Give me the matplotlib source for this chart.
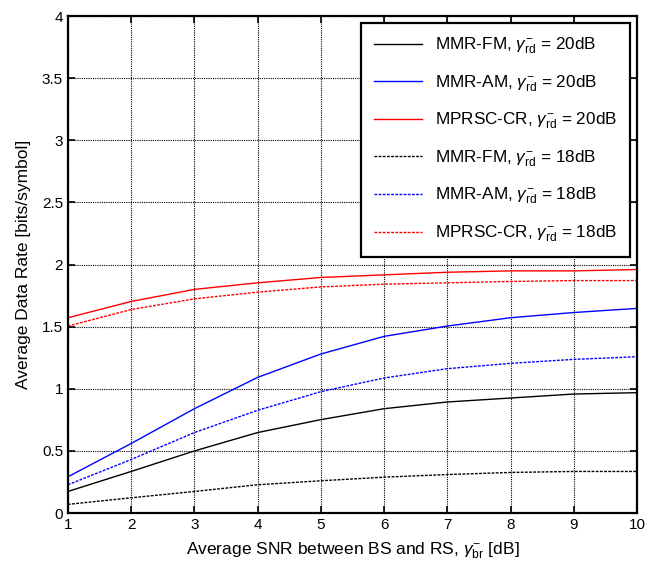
import numpy as np
import matplotlib.pyplot as plt

plt.rcParams['font.family'] = ['Liberation Sans', 'DejaVu Sans']
plt.rcParams['mathtext.fontset'] = 'custom'
plt.rcParams['mathtext.rm'] = 'Liberation Sans'
plt.rcParams['mathtext.it'] = 'Liberation Sans:italic'

# SNR between BS and RS (dB)
snr = [1, 2, 3, 4, 5, 6, 7, 8, 9, 10]

# gamma_rd = 20dB
fm_20 = [0.174, 0.335, 0.50, 0.648, 0.752, 0.84, 0.894, 0.926, 0.958, 0.969]
am_20 = [0.292, 0.56, 0.84, 1.092, 1.28, 1.422, 1.505, 1.572, 1.614, 1.647]
cr_20 = [1.572, 1.703, 1.80, 1.853, 1.896, 1.917, 1.938, 1.949, 1.949, 1.96]

# gamma_rd = 18dB
fm_18 = [0.07, 0.123, 0.174, 0.228, 0.26, 0.289, 0.31, 0.327, 0.335, 0.335]
am_18 = [0.228, 0.431, 0.648, 0.827, 0.977, 1.087, 1.162, 1.205, 1.237, 1.258]
cr_18 = [1.505, 1.638, 1.724, 1.778, 1.82, 1.842, 1.853, 1.864, 1.871, 1.871]

g = r'$\gamma^{\mathrm{-}}_{\mathrm{rd}}$'

fig = plt.figure(figsize=(6.47, 5.72), dpi=100)
ax = fig.add_axes([0.105, 0.103, 0.8795, 0.869])

ax.plot(snr, fm_20, color='black', lw=1, label='MMR-FM, ' + g + ' = 20dB')
ax.plot(snr, am_20, color='blue', lw=1, label='MMR-AM, ' + g + ' = 20dB')
ax.plot(snr, cr_20, color='red', lw=1, label='MPRSC-CR, ' + g + ' = 20dB')
ax.plot(snr, fm_18, color='black', lw=1, dashes=(2, 1), label='MMR-FM, ' + g + ' = 18dB')
ax.plot(snr, am_18, color='blue', lw=1, dashes=(2, 1), label='MMR-AM, ' + g + ' = 18dB')
ax.plot(snr, cr_18, color='red', lw=1, dashes=(2, 1), label='MPRSC-CR, ' + g + ' = 18dB')

ax.set_xlim(1, 10)
ax.set_ylim(0, 4)
ax.set_xticks(range(1, 11))
ax.set_yticks(np.arange(0, 4.01, 0.5))
ax.set_yticklabels(['0', '0.5', '1', '1.5', '2', '2.5', '3', '3.5', '4'])
ax.tick_params(direction='in', labelsize=11, top=True, right=True, length=5, width=1.2)
ax.grid(True, color='black', linestyle=(0, (1, 1)), linewidth=0.8)
for s in ax.spines.values():
    s.set_linewidth(1.6)

ax.set_xlabel('Average SNR between BS and RS, ' + r'$\gamma^{\mathrm{-}}_{\mathrm{br}}$' + ' [dB]',
              fontsize=12.5, labelpad=6)
ax.set_ylabel('Average Data Rate [bits/symbol]', fontsize=12.5, labelpad=8)

leg = ax.legend(loc='upper right', fontsize=12.3, fancybox=False, framealpha=1,
                edgecolor='black', labelspacing=1.0, handlelength=2.8,
                borderpad=0.75, borderaxespad=0.4)
leg.get_frame().set_linewidth(1.6)

fig.savefig('out.png', dpi=100)
